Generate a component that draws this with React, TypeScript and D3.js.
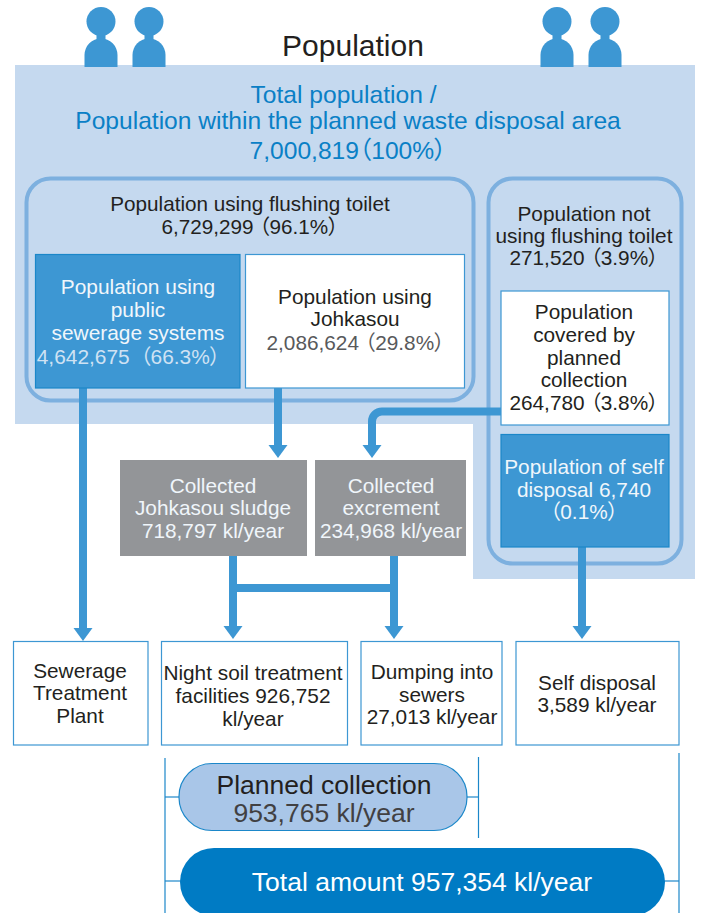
import React, { useEffect, useRef } from "react";
import * as d3 from "d3";

const titleText = ["Population"];
const totalHead = ["Total population /"];
const totalLines = ["Population within the planned waste disposal area", "7,000,819（100%）"];
const flushingLines = ["Population using flushing toilet", "6,729,299 （96.1%）"];
const sewerageLines = ["Population using", "public", "sewerage systems"];
const sewerageValue = ["4,642,675\u2002（66.3%）"];
const johkasouLines = ["Population using", "Johkasou"];
const johkasouValue = ["2,086,624 （29.8%）"];
const notFlushingLines = ["Population not", "using flushing toilet", "271,520 （3.9%）"];
const plannedPopLines = ["Population", "covered by", "planned", "collection", "264,780 （3.8%）"];
const selfPopLines = ["Population of self", "disposal 6,740", "（0.1%）"];
const sludgeLines = ["Collected", "Johkasou sludge", "718,797 kl/year"];
const excrementLines = ["Collected", "excrement", "234,968 kl/year"];
const plantLines = ["Sewerage", "Treatment", "Plant"];
const nightSoilLines = ["Night soil treatment", "facilities 926,752", "kl/year"];
const dumpingLines = ["Dumping into", "sewers", "27,013 kl/year"];
const selfLines = ["Self disposal", "3,589 kl/year"];
const plannedAmount = ["Planned collection", "953,765 kl/year"];
const totalAmount = ["Total amount 957,354 kl/year"];

const C = {
  ink: "#231f20", blueText: "#0a80c6", bg: "#c5d9ef", panel: "#7db0df", blue: "#3d97d3",
  edge: "#1b87c9", grey: "#939598", pillLight: "#a9c6e8", pillDark: "#007bc4", white: "#ffffff", soft: "#f0f6fb",
};
const FONT = '"Liberation Sans", "Noto Sans CJK JP", sans-serif';

export default function App() {
  const ref = useRef<SVGSVGElement>(null);
  useEffect(() => {
    const svg = d3.select(ref.current!);
    svg.selectAll("*").remove();

    const rect = (x0: number, y0: number, x1: number, y1: number, fill: string, stroke = "none", sw = 0, r = 0) =>
      svg.append("rect").attr("x", x0).attr("y", y0).attr("width", x1 - x0).attr("height", y1 - y0)
        .attr("rx", r).attr("ry", r).attr("fill", fill).attr("stroke", stroke).attr("stroke-width", sw);

    const text = (cx: number, ys: number[], lines: string[], size: number, fill: string, fills?: string[]) =>
      lines.forEach((t, i) => {
        svg.append("text").attr("x", cx).attr("y", ys[i]).attr("text-anchor", "middle")
          .attr("font-family", FONT).attr("font-size", size).attr("fill", fills ? fills[i] : fill)
          .style("font-feature-settings", '"palt"').text(t);
      });

    // background
    const bg = d3.path();
    bg.moveTo(15, 65); bg.lineTo(695, 65); bg.lineTo(695, 579); bg.lineTo(473, 579);
    bg.lineTo(473, 424); bg.lineTo(15, 424); bg.closePath();
    svg.append("path").attr("d", bg.toString()).attr("fill", C.bg);

    // people icons
    [101, 149, 557, 605].forEach((cx) => {
      const p = d3.path();
      p.moveTo(cx - 16.5, 67); p.lineTo(cx - 16.5, 55);
      p.arc(cx, 55, 16.5, Math.PI, 2 * Math.PI);
      p.lineTo(cx + 16.5, 67); p.closePath();
      svg.append("path").attr("d", p.toString()).attr("fill", C.blue);
      svg.append("circle").attr("cx", cx).attr("cy", 21.5).attr("r", 14.5).attr("fill", C.blue);
      svg.append("rect").attr("x", cx - 4.5).attr("y", 33).attr("width", 9).attr("height", 7).attr("fill", C.blue);
    });

    text(353, [56], titleText, 30, C.ink);
    text(343.5, [103], totalHead, 24.6, C.blueText);
    text(348, [129, 159], totalLines, 24.6, C.blueText);

    // rounded panels
    rect(26.5, 178.5, 473.5, 400.5, "none", C.panel, 4, 24);
    rect(488.5, 178.5, 681.5, 563.5, "none", C.panel, 4, 24);

    // arrows
    const stem = (x: number, y0: number, y1: number) => {
      const p = d3.path();
      p.moveTo(x, y0); p.lineTo(x, y1);
      svg.append("path").attr("d", p.toString()).attr("stroke", C.blue).attr("stroke-width", 8).attr("fill", "none");
    };
    const head = (x: number, y0: number, y1: number) => {
      const p = d3.path();
      p.moveTo(x - 9.5, y0); p.lineTo(x + 9.5, y0); p.lineTo(x, y1); p.closePath();
      svg.append("path").attr("d", p.toString()).attr("fill", C.blue);
    };
    stem(83, 388, 629); head(83, 628, 641);
    stem(278, 388, 446); head(278, 445, 458);
    stem(233, 556, 627); head(233, 626, 639);
    stem(394, 556, 627); head(394, 626, 639);
    stem(582, 547, 627); head(582, 626, 639);
    const bar = d3.path();
    bar.moveTo(233, 588); bar.lineTo(398, 588);
    svg.append("path").attr("d", bar.toString()).attr("stroke", C.blue).attr("stroke-width", 8).attr("fill", "none");
    const elbow = d3.path();
    elbow.moveTo(503, 411.5); elbow.lineTo(382, 411.5);
    elbow.arcTo(372, 411.5, 372, 421.5, 10); elbow.lineTo(372, 446);
    svg.append("path").attr("d", elbow.toString()).attr("stroke", C.blue).attr("stroke-width", 8).attr("fill", "none");
    head(372, 445, 458);

    // boxes
    rect(35.5, 254.5, 240, 388, C.blue, C.edge, 1.2);
    rect(245.5, 254.5, 464.5, 388, C.white, C.blue, 1.2);
    rect(501, 291, 669, 425, C.white, C.blue, 1.2);
    rect(501, 434.5, 669, 547, C.blue, C.edge, 1.2);
    rect(120, 460, 307, 556, C.grey);
    rect(315, 460, 466, 556, C.grey);
    rect(13.5, 641.5, 148, 745, C.white, C.blue, 1.2);
    rect(161.5, 641.5, 347.5, 745, C.white, C.blue, 1.2);
    rect(361, 641.5, 502, 745, C.white, C.blue, 1.2);
    rect(516, 641.5, 679, 745, C.white, C.blue, 1.2);

    // brackets
    const lines: [number, number, number, number][] = [
      [165, 758, 165, 913], [478.5, 757, 478.5, 838], [679, 753, 679, 913],
      [165, 797, 180, 797], [466, 797, 478.5, 797], [165, 881, 182, 881], [664, 881, 679, 881],
    ];
    lines.forEach(([a, b, c, d]) => svg.append("line").attr("x1", a).attr("y1", b).attr("x2", c).attr("y2", d)
      .attr("stroke", C.edge).attr("stroke-width", 1.2));
    rect(179, 763.5, 467, 830.5, C.pillLight, C.edge, 1.2, 33);
    rect(180, 848, 665, 916, C.pillDark, "none", 0, 34);

    // labels
    text(250, [211, 234], flushingLines, 20.7, C.ink);
    text(138, [294, 317, 340], sewerageLines, 20.9, C.soft);
    text(128.5, [364], sewerageValue, 20.9, "#cfe2f3");
    text(355, [304, 326], johkasouLines, 20.8, C.ink);
    text(355.5, [350], johkasouValue, 20.8, "#58595b");
    text(584, [221, 243, 265], notFlushingLines, 20.8, C.ink);
    text(584, [319, 342, 365, 387, 410], plannedPopLines, 20.8, C.ink);
    text(584, [474, 497, 519], selfPopLines, 20.8, C.soft);
    text(213, [493, 515, 538], sludgeLines, 20.8, C.soft);
    text(391, [493, 515, 538], excrementLines, 20.8, C.soft);
    text(80, [678, 700, 723], plantLines, 20.8, C.ink);
    text(253, [680, 703, 726], nightSoilLines, 20.8, C.ink);
    text(432, [679, 702, 724], dumpingLines, 20.8, C.ink);
    text(597, [690, 712], selfLines, 20.8, C.ink);
    text(324, [794, 822], plannedAmount, 26.5, C.ink, [C.ink, "#414042"]);
    text(422, [891], totalAmount, 26.5, C.white);
  }, []);
  return <svg ref={ref} width={701} height={913} style={{ position: "absolute", left: 0, top: 0, display: "block" }} />;
}
